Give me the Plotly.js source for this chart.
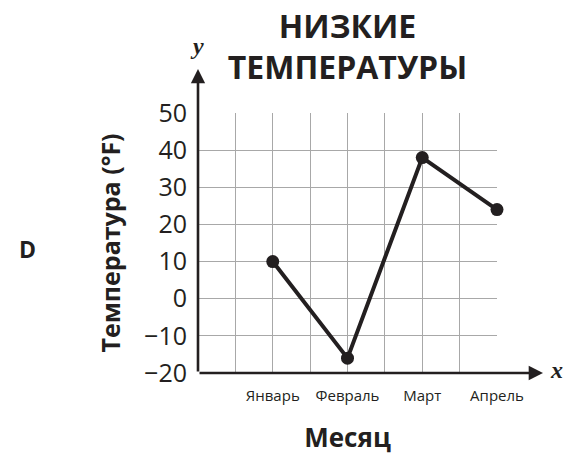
<!DOCTYPE html>
<html>
<head>
<meta charset="utf-8">
<script src="https://cdn.plot.ly/plotly-3.0.1.min.js"></script>
<style>html,body{margin:0;padding:0;background:#fff;}#chart{width:577px;height:455px;}</style>
</head>
<body>
<div id="chart"></div>
<script>
// Data
const months = ['Январь', 'Февраль', 'Март', 'Апрель'];
const monthPos = [1, 2, 3, 4];
const lowTemps = [10, -16, 38, 24];
const gridStepsX = [0.5, 1, 1.5, 2, 2.5, 3, 3.5, 4];
const yTicks = [-20, -10, 0, 10, 20, 30, 40, 50];

const ink = '#231f20';
const fontFam = '"Open Sans", "Noto Sans", sans-serif';

const xTickText = gridStepsX.map(v => {
  const i = monthPos.indexOf(v);
  return i >= 0 ? months[i] : '';
});

const trace = {
  x: monthPos,
  y: lowTemps,
  type: 'scatter',
  mode: 'lines+markers',
  line: {color: ink, width: 4},
  marker: {color: ink, size: 13},
  cliponaxis: false,
  hoverinfo: 'skip'
};

const L = 198, R = 497, T = 113, B = 373;
const W = 577, H = 455;
const pw = R - L, ph = B - T;
const px = v => (v - L) / pw;
const py = v => (B - v) / ph;

const layout = {
  width: W, height: H,
  margin: {l: L, r: W - R, t: T, b: H - B, pad: 0},
  paper_bgcolor: '#fff', plot_bgcolor: '#fff',
  showlegend: false,
  font: {family: fontFam, color: ink},
  title: {
    text: 'НИЗКИЕ<br>ТЕМПЕРАТУРЫ',
    font: {family: fontFam, size: 32, weight: 700, color: ink},
    x: 0.5, xref: 'paper', xanchor: 'center',
    y: 0.917, yref: 'container', yanchor: 'top'
  },
  xaxis: {
    range: [0, 4],
    tickmode: 'array',
    tickvals: gridStepsX,
    ticktext: xTickText,
    ticks: '',
    showgrid: true, gridcolor: '#a8a8a8', gridwidth: 1.2,
    zeroline: false,
    showline: false,
    tickfont: {size: 15, color: ink},
    ticklabelstandoff: 12,
    title: {text: 'Месяц', font: {size: 26, weight: 700, color: ink}, standoff: 26},
    fixedrange: true
  },
  yaxis: {
    range: [-20, 50],
    tickmode: 'array',
    tickvals: yTicks,
    ticks: '',
    showgrid: true, gridcolor: '#a8a8a8', gridwidth: 1.2,
    zeroline: false,
    showline: false,
    tickfont: {size: 25, color: ink},
    ticklabelstandoff: 10,
    title: {text: 'Температура (°F)', font: {size: 25, weight: 700, color: ink}, standoff: 16},
    fixedrange: true
  },
  annotations: [
    {xref: 'paper', yref: 'paper', x: px(543), y: 0, ax: -(543 - L), ay: 0,
     text: '', showarrow: true, arrowhead: 2, arrowsize: 1.1, arrowwidth: 2.6, arrowcolor: ink},
    {xref: 'paper', yref: 'paper', x: 0, y: py(69), ax: 0, ay: (B - 69),
     text: '', showarrow: true, arrowhead: 2, arrowsize: 1.1, arrowwidth: 2.6, arrowcolor: ink},
    {xref: 'paper', yref: 'paper', x: px(197), y: py(46), xanchor: 'center', yanchor: 'middle',
     text: 'y', showarrow: false,
     font: {family: '"Liberation Serif", "DejaVu Serif", serif', size: 24, style: 'italic', weight: 700, color: ink}},
    {xref: 'paper', yref: 'paper', x: px(556), y: py(370), xanchor: 'center', yanchor: 'middle',
     text: 'x', showarrow: false,
     font: {family: '"Liberation Serif", "DejaVu Serif", serif', size: 24, style: 'italic', weight: 700, color: ink}},
    {xref: 'paper', yref: 'paper', x: px(27), y: py(249), xanchor: 'center', yanchor: 'middle',
     text: 'D', showarrow: false,
     font: {family: fontFam, size: 23, weight: 700, color: ink}}
  ]
};

Plotly.newPlot('chart', [trace], layout, {staticPlot: true, displayModeBar: false});
</script>
</body>
</html>
